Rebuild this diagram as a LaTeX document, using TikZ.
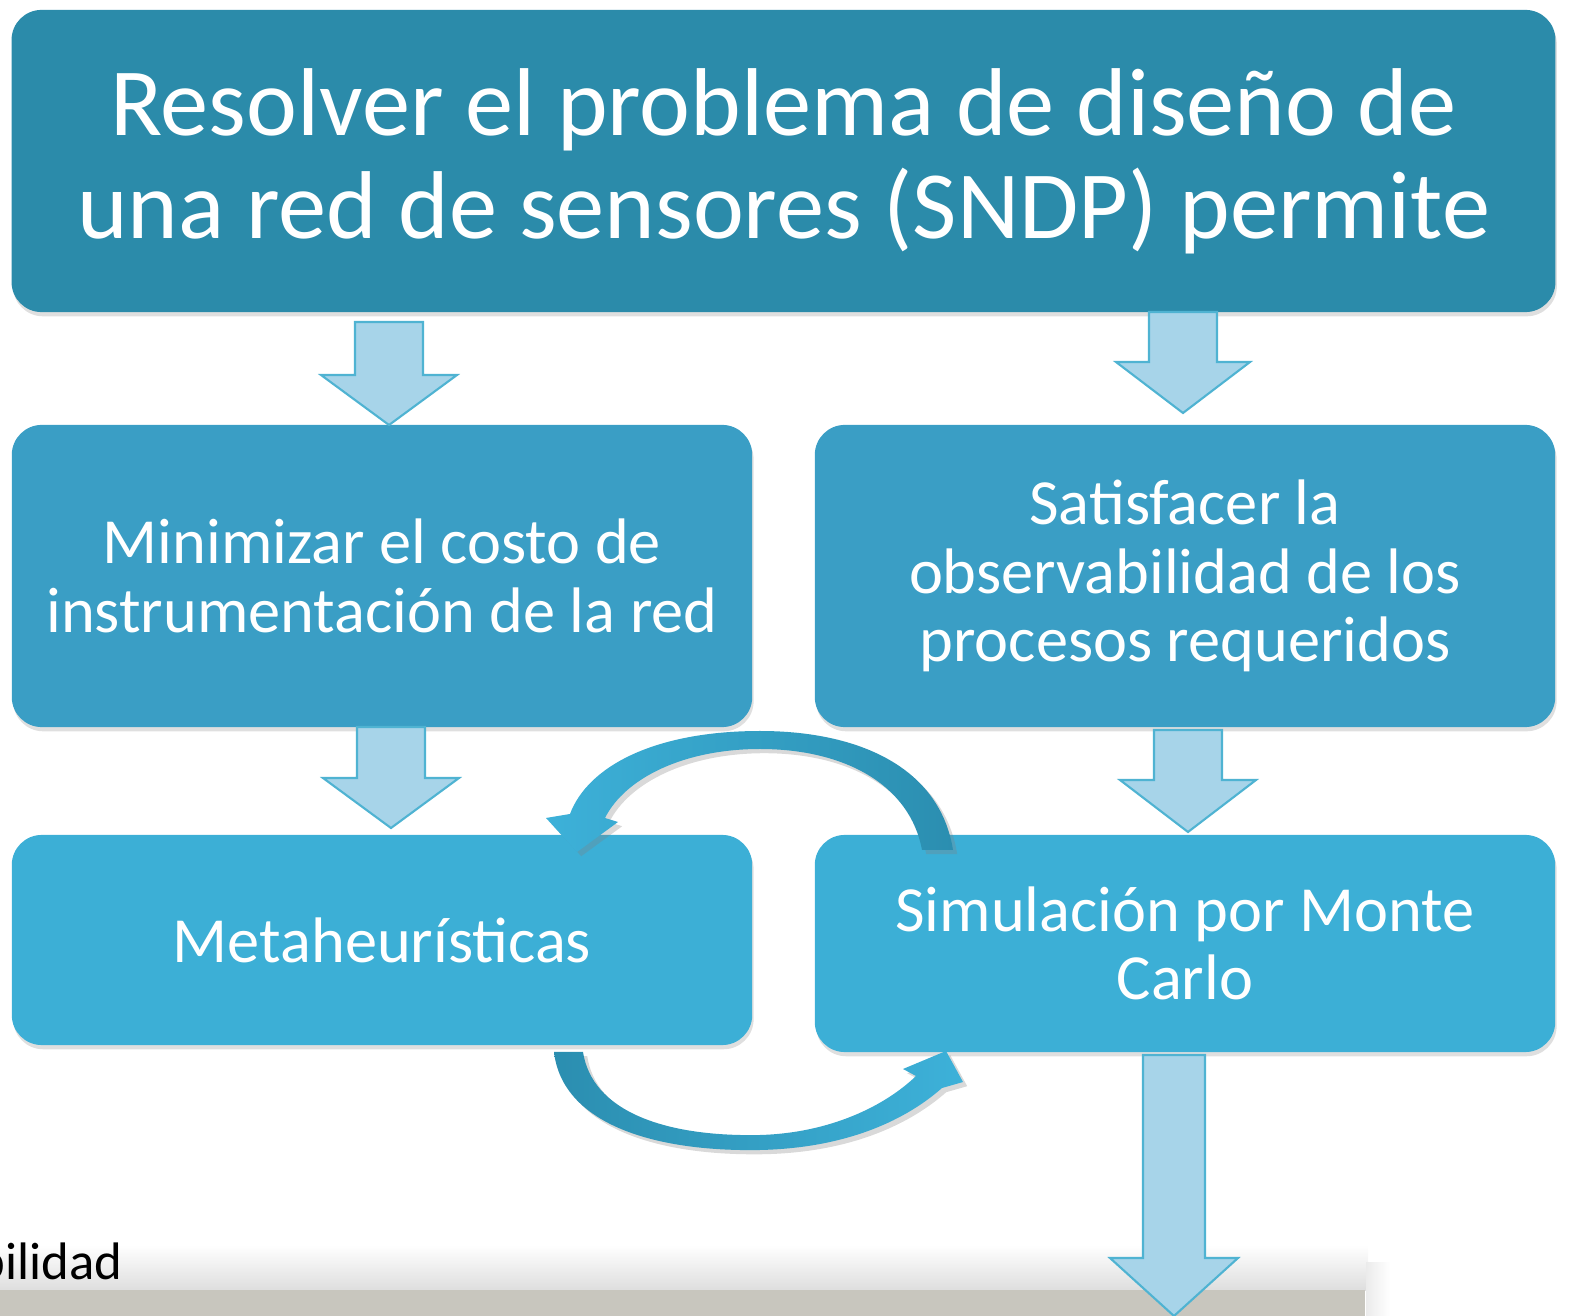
\documentclass[tikz,border=0pt]{standalone}
\usepackage{fontspec}
\setmainfont{Carlito}
\usetikzlibrary{shadows}
\definecolor{topblue}{HTML}{2B8BAA}
\definecolor{midblue}{HTML}{3A9EC5}
\definecolor{lowblue}{HTML}{3CAFD6}
\definecolor{arrowfill}{HTML}{A7D4E9}
\definecolor{arrowline}{HTML}{4FB3D2}
\definecolor{curvelight}{HTML}{3DB1D9}
\definecolor{curvedark}{HTML}{2B8EB0}
\definecolor{bandgray}{HTML}{C8C6BE}
\definecolor{bandlight}{HTML}{DEDEDE}
\tikzset{
  box/.style={rounded corners=0.3cm, inner sep=0pt, text=white, align=center,
    minimum width=7.4cm, drop shadow={opacity=0.25, shadow xshift=0.4pt, shadow yshift=-1.2pt}},
  arrowbox/.style={fill=arrowfill, draw=arrowline, line width=0.6pt, line join=miter},
  curvearrow/.style={drop shadow={opacity=0.3, shadow xshift=1.2pt, shadow yshift=-1.2pt}}
}
\newcommand{\dnarrow}[6]{% x, top, neck, tip, half shaft, half head
  \draw[arrowbox] ({#1-#5},#2) -- ({#1+#5},#2) -- ({#1+#5},#3) -- ({#1+#6},#3)
    -- (#1,#4) -- ({#1-#6},#3) -- ({#1-#5},#3) -- cycle;}

\begin{document}
\begin{tikzpicture}[x=0.01cm,y=-0.01cm]
  \useasboundingbox (0,0) rectangle (1572,1316);

  % grey strip at the bottom
  \shade[top color=white, bottom color=bandlight] (0,1245) rectangle (1368,1290);
  \shade[left color=bandlight!60, right color=white] (1366,1262) rectangle (1390,1316);
  \fill[bandgray] (0,1290) rectangle (1365,1316);
  \node[anchor=base west, inner sep=0pt, font=\fontsize{15}{18}\selectfont] (cut) at (-23,1279) {bilidad};

  % boxes
  \node[box, fill=topblue, minimum width=15.43cm, minimum height=3.02cm,
    font=\fontsize{27.4}{29.3}\selectfont] (sndp) at (783.5,161)
    {Resolver el problema de diseño de\\una red de sensores (SNDP) permite};
  \node[box, fill=midblue, minimum height=3.02cm, font=\fontsize{18.3}{19.4}\selectfont]
    (costo) at (382,576) {Minimizar el costo de\\instrumentación de la red};
  \node[box, fill=midblue, minimum height=3.02cm, font=\fontsize{18.3}{19.4}\selectfont]
    (observ) at (1185,576) {Satisfacer la\\observabilidad de los\\procesos requeridos};
  \node[box, fill=lowblue, minimum height=2.10cm, font=\fontsize{18.3}{19.4}\selectfont]
    (meta) at (382,940) {Metaheurísticas};
  \node[box, fill=lowblue, minimum height=2.17cm, font=\fontsize{18.3}{19.4}\selectfont]
    (monte) at (1185,943.5) {Simulación por Monte\\Carlo};

  % block arrows
  \dnarrow{389}{322}{375}{425}{34}{68}
  \dnarrow{1183}{312}{362}{413}{34}{67}
  \dnarrow{391}{727}{778}{828}{34}{68}
  \dnarrow{1188}{730}{780}{832}{34}{68}
  \dnarrow{1174}{1055}{1258}{1316}{31}{64}

  % curved arrows between the two lower boxes
  \shade[curvearrow, left color=curvelight, right color=curvedark]
    (953,850) .. controls (940,768) and (860,731) .. (760,731)
    .. controls (655,731) and (588,766) .. (570,814)
    -- (546,818) -- (577,852) -- (618,822) -- (605,818)
    .. controls (625,778) and (684,749) .. (760,749)
    .. controls (845,749) and (910,785) .. (922,850) -- cycle;
  \shade[curvearrow, left color=curvedark, right color=curvelight]
    (554,1052) .. controls (562,1122) and (650,1152) .. (760,1150)
    .. controls (850,1148) and (908,1118) .. (942,1088)
    -- (963,1082) -- (946,1051) -- (903,1069) -- (916,1076)
    .. controls (885,1106) and (830,1133) .. (760,1135)
    .. controls (662,1137) and (592,1110) .. (583,1052) -- cycle;
\end{tikzpicture}
\end{document}
